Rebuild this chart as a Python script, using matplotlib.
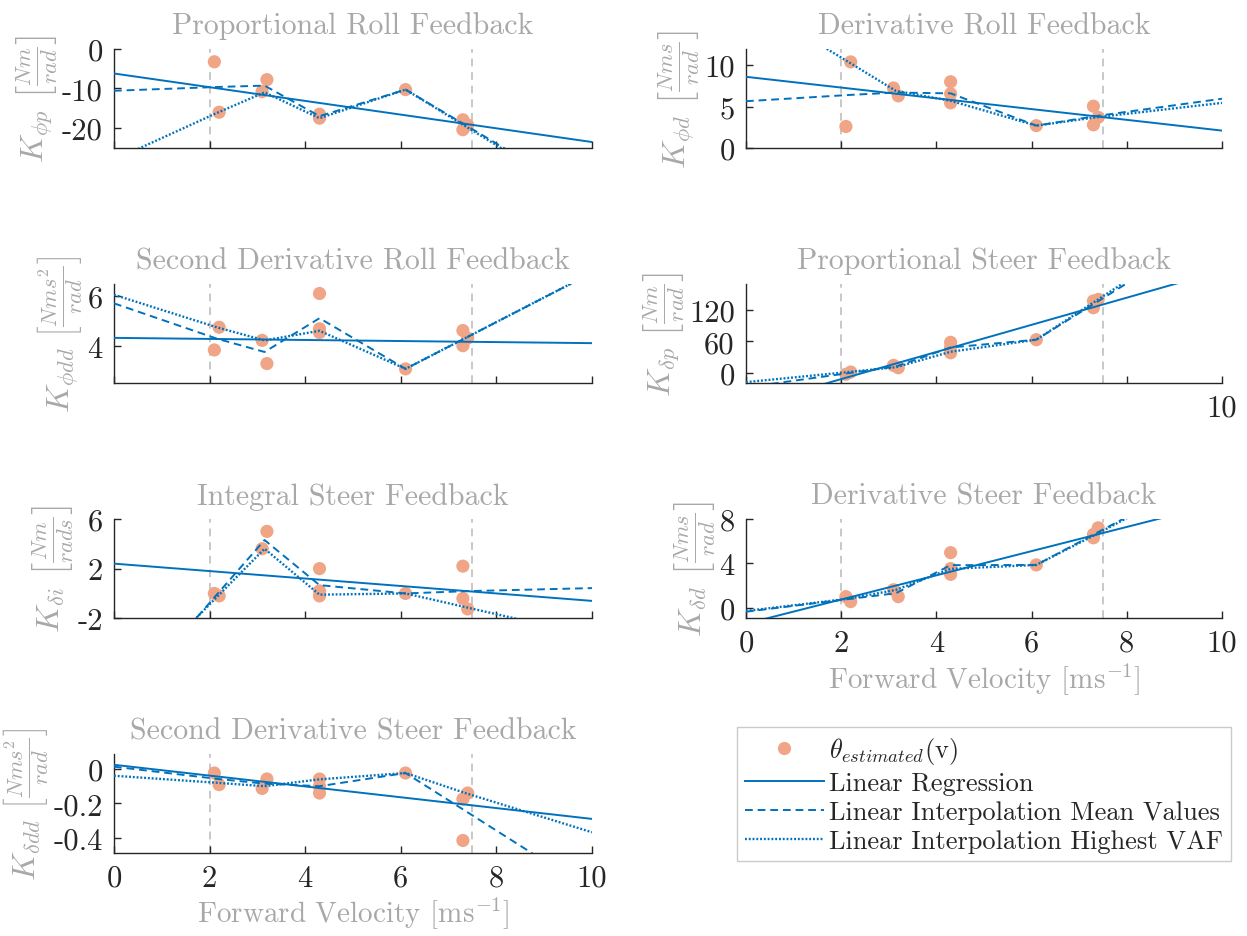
import matplotlib
matplotlib.use('Agg')
import matplotlib.pyplot as plt
from matplotlib.lines import Line2D

plt.rcParams['font.family'] = 'serif'
plt.rcParams['font.serif'] = ['cmr10']
plt.rcParams['mathtext.fontset'] = 'cm'
plt.rcParams['axes.unicode_minus'] = False

BLUE = '#0072BD'
DOTC = '#F0A586'
GREY = '#A8A8A8'
INK = '#262626'

# velocities of the interpolation nodes, regression end points, window limits
v_line = [0, 2.15, 3.15, 4.3, 6.1, 7.35, 10]
v_reg = [0, 10]
v_window = [2.0, 7.5]

# proportional roll
kphip_v = [2.1, 2.2, 3.1, 3.2, 4.3, 4.3, 6.1, 7.3, 7.3, 7.4]
kphip_k = [-3.3, -16.0, -10.8, -7.8, -16.5, -17.5, -10.3, -17.9, -20.4, -19.2]
kphip_reg = [-6.25, -23.5]
kphip_mean = [-10.6, -9.65, -9.3, -17.0, -10.3, -19.2, -38.2]
kphip_vaf = [-28.0, -16.2, -11.0, -17.5, -10.3, -19.5, -39.0]

# derivative roll
kphid_v = [2.1, 2.2, 3.1, 3.2, 4.3, 4.3, 4.3, 6.1, 7.3, 7.3, 7.4]
kphid_k = [2.6, 10.4, 7.25, 6.3, 8.0, 6.55, 5.45, 2.7, 5.05, 2.8, 3.7]
kphid_reg = [8.6, 2.1]
kphid_mean = [5.65, 6.4, 6.7, 6.6, 2.7, 3.85, 5.95]
kphid_vaf = [17.9, 10.4, 6.9, 5.7, 2.7, 3.7, 5.45]

# second derivative roll
kphidd_v = [2.1, 2.2, 3.1, 3.2, 4.3, 4.3, 4.3, 6.1, 7.3, 7.3, 7.4]
kphidd_k = [3.86, 4.76, 4.24, 3.32, 6.1, 4.7, 4.55, 3.11, 4.63, 4.03, 4.33]
kphidd_reg = [4.34, 4.13]
kphidd_mean = [5.71, 4.31, 3.78, 5.12, 3.11, 4.33, 6.92]
kphidd_vaf = [6.05, 4.76, 4.24, 4.62, 3.11, 4.33, 6.92]

# proportional steer
kdp_v = [2.1, 2.2, 3.1, 3.2, 4.3, 4.3, 4.3, 6.1, 7.3, 7.3, 7.4]
kdp_k = [-3.0, 1.3, 14.0, 9.5, 58.0, 48.6, 38.0, 63.0, 124.0, 137.0, 140.0]
kdp_reg = [-64.0, 195.0]
kdp_mean = [-28.0, -0.85, 11.75, 48.2, 63.0, 133.7, 283.6]
kdp_vaf = [-18.0, 1.3, 10.5, 40.0, 63.0, 137.0, 293.0]

# integral steer
kdi_v = [2.1, 2.2, 3.1, 3.2, 4.3, 4.3, 4.3, 6.1, 7.3, 7.3, 7.4]
kdi_k = [0.0, -0.2, 3.6, 5.0, 2.0, 0.2, -0.2, 0.0, 2.2, -0.4, -1.25]
kdi_reg = [2.4, -0.6]
kdi_mean = [-9.6, -0.1, 4.3, 0.67, 0.0, 0.18, 0.43]
kdi_vaf = [-8.7, -0.3, 3.6, -0.1, 0.0, -1.1, -3.43]

# derivative steer
kdd_v = [2.1, 2.2, 3.1, 3.2, 4.3, 4.3, 4.3, 6.1, 7.3, 7.3, 7.4]
kdd_k = [0.99, 0.54, 1.61, 0.99, 4.96, 3.52, 3.0, 3.85, 6.3, 6.6, 7.2]
kdd_reg = [-1.45, 9.46]
kdd_mean = [-0.37, 0.77, 1.3, 3.83, 3.85, 6.7, 12.7]
kdd_vaf = [-0.3, 0.8, 1.6, 3.5, 3.85, 6.6, 12.6]

# second derivative steer
kddd_v = [2.1, 2.2, 3.1, 3.2, 4.3, 4.3, 4.3, 6.1, 7.3, 7.3, 7.4]
kddd_k = [-0.023, -0.091, -0.113, -0.058, -0.058, -0.101, -0.14, -0.023, -0.175, -0.417, -0.14]
kddd_reg = [0.025, -0.291]
kddd_mean = [0.014, -0.057, -0.085, -0.1, -0.023, -0.244, -0.713]
kddd_vaf = [-0.039, -0.08, -0.1, -0.06, -0.023, -0.14, -0.369]

xticks = [0, 2, 4, 6, 8, 10]

# title, ylabel, data, ylim, yticks, ytick labels, axes position
panels = [
    ('Proportional Roll Feedback', r'$K_{\phi p}\ \left[\frac{Nm}{rad}\right]$',
     kphip_v, kphip_k, kphip_reg, kphip_mean, kphip_vaf,
     (-25, 0), [-20, -10, 0], ['-20', '-10', '0'], (0.0914, 0.8410)),
    ('Derivative Roll Feedback', r'$K_{\phi d}\ \left[\frac{Nms}{rad}\right]$',
     kphid_v, kphid_k, kphid_reg, kphid_mean, kphid_vaf,
     (0, 12), [0, 5, 10], ['0', '5', '10'], (0.5982, 0.8410)),
    ('Second Derivative Roll Feedback', r'$K_{\phi dd}\ \left[\frac{Nms^2}{rad}\right]$',
     kphidd_v, kphidd_k, kphidd_reg, kphidd_mean, kphidd_vaf,
     (2.55, 6.49), [4, 6], ['4', '6'], (0.0914, 0.5902)),
    ('Proportional Steer Feedback', r'$K_{\delta p}\ \left[\frac{Nm}{rad}\right]$',
     kdp_v, kdp_k, kdp_reg, kdp_mean, kdp_vaf,
     (-19.6, 170), [0, 60, 120], ['0', '60', '120'], (0.5982, 0.5902)),
    ('Integral Steer Feedback', r'$K_{\delta i}\ \left[\frac{Nm}{rads}\right]$',
     kdi_v, kdi_k, kdi_reg, kdi_mean, kdi_vaf,
     (-2, 6), [-2, 2, 6], ['-2', '2', '6'], (0.0914, 0.3391)),
    ('Derivative Steer Feedback', r'$K_{\delta d}\ \left[\frac{Nms}{rad}\right]$',
     kdd_v, kdd_k, kdd_reg, kdd_mean, kdd_vaf,
     (-0.96, 8), [0, 4, 8], ['0', '4', '8'], (0.5982, 0.3391)),
    ('Second Derivative Steer Feedback', r'$K_{\delta dd}\ \left[\frac{Nms^2}{rad}\right]$',
     kddd_v, kddd_k, kddd_reg, kddd_mean, kddd_vaf,
     (-0.49, 0.09), [-0.4, -0.2, 0], ['-0.4', '-0.2', '0'], (0.0914, 0.0886)),
]

fig = plt.figure(figsize=(12.47, 9.37), dpi=100)

for i, (title, ylab, v, k, reg, kmean, kvaf, ylim, yt, ytl, pos) in enumerate(panels):
    left = pos[0]
    width = 0.3833 if left < 0.5 else 0.3817
    ax = fig.add_axes([left, pos[1], width, 0.106])

    for vw in v_window:
        ax.axvline(vw, color='#C8C8C8', lw=1.4, ls=(0, (4, 3)), zorder=1)
    ax.scatter(v, k, s=90, color=DOTC, edgecolors='none', zorder=2)
    ax.plot(v_reg, reg, color=BLUE, lw=1.4, zorder=3)
    ax.plot(v_line, kmean, color=BLUE, lw=1.4, ls=(0, (4, 2.5)), zorder=3)
    ax.plot(v_line, kvaf, color=BLUE, lw=1.7, ls=(0, (0.8, 0.8)), zorder=3)

    ax.set_xlim(0, 10)
    ax.set_ylim(*ylim)
    ax.set_xticks(xticks)
    ax.set_yticks(yt)
    ax.set_yticklabels(ytl)
    if i in (5, 6):
        ax.set_xticklabels([str(t) for t in xticks])
        ax.set_xlabel(r'Forward Velocity [ms$^{-1}$]', color=GREY, fontsize=21, labelpad=2)
    elif i == 3:
        ax.set_xticklabels(['', '', '', '', '', '10'])
    else:
        ax.set_xticklabels([])

    ax.set_title(title, color=GREY, fontsize=21.5, pad=11)
    ax.set_ylabel(ylab, color=GREY, fontsize=23, labelpad=2)

    for side in ('top', 'right'):
        ax.spines[side].set_visible(False)
    for side in ('left', 'bottom'):
        ax.spines[side].set_color(INK)
        ax.spines[side].set_linewidth(1.0)
    ax.tick_params(direction='in', length=5, width=1, colors=INK, labelsize=22, pad=8)

handles = [
    Line2D([], [], ls='none', marker='o', ms=9.5, color=DOTC, mec='none'),
    Line2D([], [], color=BLUE, lw=1.4),
    Line2D([], [], color=BLUE, lw=1.4, ls=(0, (4, 2.5))),
    Line2D([], [], color=BLUE, lw=1.7, ls=(0, (0.8, 0.8))),
]
labels = [r'$\theta_{estimated}(\mathrm{v})$', 'Linear Regression',
          'Linear Interpolation Mean Values', 'Linear Interpolation Highest VAF']
leg = fig.legend(handles, labels, loc='upper left', bbox_to_anchor=(0.591, 0.223),
                 fontsize=19, frameon=True, fancybox=False, edgecolor='#BFBFBF',
                 handlelength=3.0, handletextpad=0.2, labelspacing=0.2, borderpad=0.3,
                 borderaxespad=0)
leg.get_frame().set_linewidth(1.0)
for t in leg.get_texts():
    t.set_color(INK)

fig.savefig('out.png', dpi=100)
